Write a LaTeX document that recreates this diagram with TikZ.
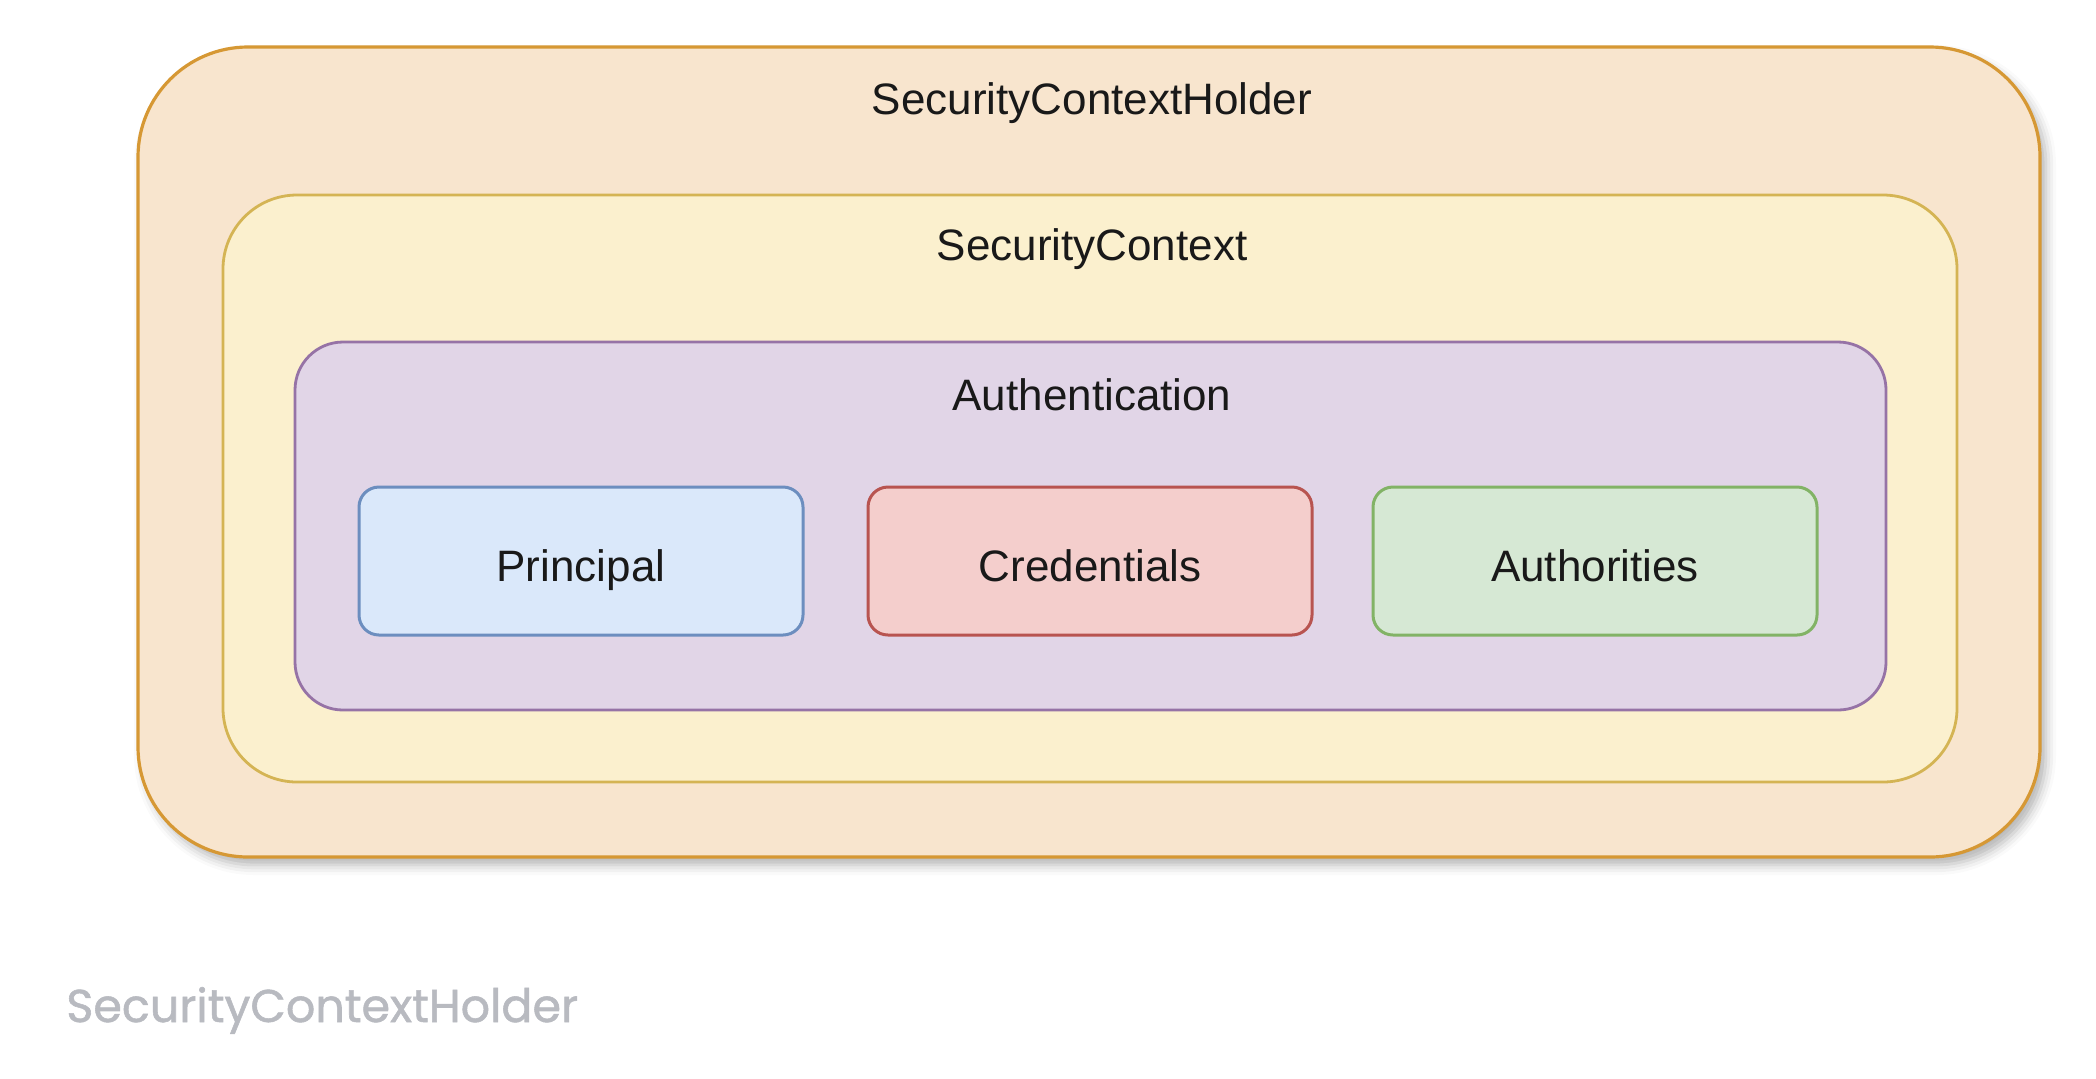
\documentclass[tikz,border=0pt]{standalone}
\usepackage{fontspec}
\setmainfont{Liberation Sans}
\newfontfamily\captionfont[FakeBold=1.2]{Poppins}
\usetikzlibrary{shadows.blur}

\definecolor{holderFill}{RGB}{248,229,206}
\definecolor{holderDraw}{RGB}{214,152,52}
\definecolor{contextFill}{RGB}{251,240,206}
\definecolor{contextDraw}{RGB}{212,180,84}
\definecolor{authFill}{RGB}{225,213,231}
\definecolor{authDraw}{RGB}{150,115,166}
\definecolor{principalFill}{RGB}{218,232,250}
\definecolor{principalDraw}{RGB}{108,142,191}
\definecolor{credFill}{RGB}{244,206,204}
\definecolor{credDraw}{RGB}{184,84,80}
\definecolor{authorityFill}{RGB}{214,232,212}
\definecolor{authorityDraw}{RGB}{130,179,102}
\definecolor{captionGray}{RGB}{184,186,192}

\tikzset{
  boxlabel/.style={inner sep=0.75pt, font=\fontsize{22}{26}\selectfont, text=black!90},
  partbox/.style={draw, line width=1.5pt, rounded corners=10pt, minimum width=222pt, minimum height=74pt, inner sep=0pt,
    text height=23pt, text depth=3pt, font=\fontsize{22}{26}\selectfont, text=black!90}
}

\begin{document}
\begin{tikzpicture}[x=0.5pt,y=0.5pt,yscale=-1,xscale=1]
\useasboundingbox (0,0) rectangle (2096,1078);

%Shape: Rounded Rect [id:holder]
\draw [draw=holderDraw, fill=holderFill, line width=1.6pt, rounded corners=55pt,
  blur shadow={shadow xshift=3pt, shadow yshift=-4pt, shadow blur radius=5pt, shadow opacity=30}]
  (138,47) rectangle (2040,857);
%Shape: Rounded Rect [id:context]
\draw [draw=contextDraw, fill=contextFill, line width=1.4pt, rounded corners=37pt] (223,195) rectangle (1957,782);
%Shape: Rounded Rect [id:auth]
\draw [draw=authDraw, fill=authFill, line width=1.4pt, rounded corners=24pt] (295,342) rectangle (1886,710);

% Text Node
\node [boxlabel] (holderLabel) at (1092,103) {SecurityContextHolder};
% Text Node
\node [boxlabel] (contextLabel) at (1092,249) {SecurityContext};
% Text Node
\node [boxlabel] (authLabel) at (1092,395) {Authentication};

%Shape: Rounded Rect [id:principal]
\node [partbox, draw=principalDraw, fill=principalFill] (principal) at (581,561) {Principal};
%Shape: Rounded Rect [id:credentials]
\node [partbox, draw=credDraw, fill=credFill] (credentials) at (1090,561) {Credentials};
%Shape: Rounded Rect [id:authorities]
\node [partbox, draw=authorityDraw, fill=authorityFill] (authorities) at (1595,561) {Authorities};

% Text Node
\node [anchor=base west, inner sep=0pt, text=captionGray, font=\captionfont\fontsize{23}{28}\selectfont] (caption) at (66,1022) {SecurityContextHolder};

\end{tikzpicture}
\end{document}
